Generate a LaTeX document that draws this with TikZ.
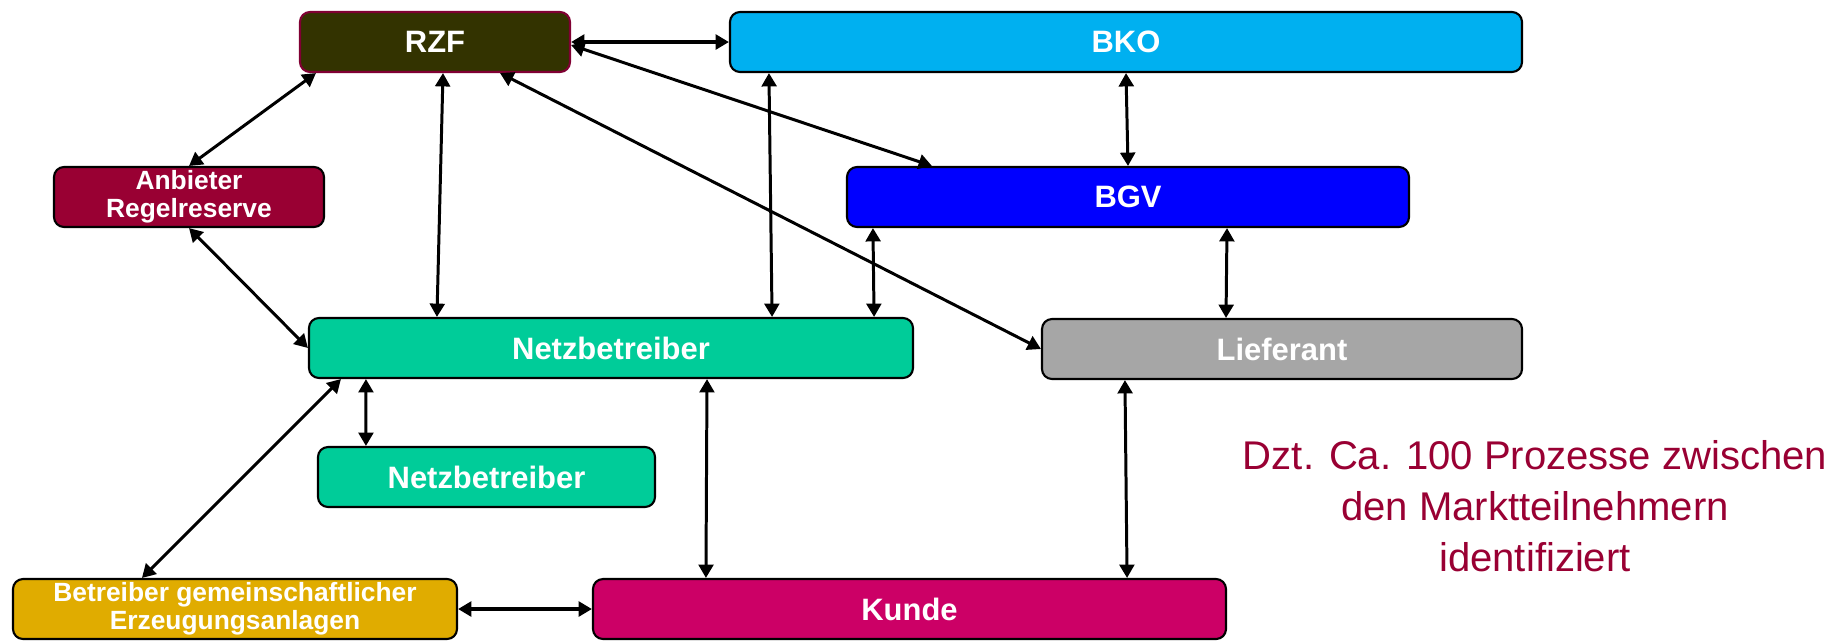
\documentclass[tikz,border=0pt]{standalone}
\usepackage{fontspec}
\setmainfont{Liberation Sans}
\usetikzlibrary{arrows.meta}

\definecolor{rzfolive}{HTML}{333300}
\definecolor{rzfborder}{HTML}{800033}
\definecolor{bkoblue}{HTML}{00B0F0}
\definecolor{anbieterred}{HTML}{990033}
\definecolor{bgvblue}{HTML}{0000FF}
\definecolor{netzgreen}{HTML}{00CC99}
\definecolor{liefgray}{HTML}{A6A6A6}
\definecolor{betrgold}{HTML}{E0AC00}
\definecolor{kundepink}{HTML}{CC0066}
\definecolor{notered}{HTML}{990033}

\begin{document}
\begin{tikzpicture}[
    box/.style={draw=black, line width=0.6pt, rounded corners=0.1cm, text=white, minimum height=0.6cm, inner sep=0pt, align=center, font=\fontsize{8.8}{10.5}\selectfont\bfseries},
    smallbox/.style={box, font=\fontsize{7.5}{8}\selectfont\bfseries},
    edge/.style={draw, line width=0.85pt, {Triangle[length=3.8pt,width=4.2pt]}-{Triangle[length=3.8pt,width=4.2pt]}},
    thickedge/.style={edge, line width=1.2pt},
    note/.style={text=notered, align=center, inner sep=0pt, font=\fontsize{11.4}{14.5}\selectfont}
]

\path[use as bounding box, fill=white] (0,0) rectangle (18.34,-6.40);

% Define node positions
\node[box, fill=rzfolive, draw=rzfborder, minimum width=2.70cm] (RZF) at (4.35,-0.42) {RZF};
\node[box, fill=bkoblue, minimum width=7.92cm] (BKO) at (11.26,-0.42) {BKO};
\node[smallbox, fill=anbieterred, minimum width=2.70cm] (AR) at (1.89,-1.97) {Anbieter\\Regelreserve};
\node[box, fill=bgvblue, minimum width=5.62cm] (BGV) at (11.28,-1.97) {BGV};
\node[box, fill=netzgreen, minimum width=6.04cm] (NB) at (6.11,-3.48) {Netzbetreiber};
\node[box, fill=liefgray, minimum width=4.80cm] (LF) at (12.82,-3.49) {Lieferant};
\node[box, fill=netzgreen, minimum width=3.37cm] (NB2) at (4.865,-4.77) {Netzbetreiber};
\node[smallbox, fill=betrgold, minimum width=4.44cm] (BGE) at (2.35,-6.09) {Betreiber gemeinschaftlicher\\Erzeugungsanlagen};
\node[box, fill=kundepink, minimum width=6.33cm] (KD) at (9.095,-6.09) {Kunde};

% Add note text
\node[note, anchor=north] (note) at (15.35,-4.40) {Dzt. Ca. 100 Prozesse zwischen\\den Marktteilnehmern\\identifiziert};

% Draw edges
\draw[thickedge] (RZF.east) -- (BKO.west);
\draw[edge] ([yshift=-0.03cm]RZF.east) -- ([xshift=0.86cm]BGV.north west);
\draw[edge] ([xshift=0.65cm]RZF.south) -- (LF.west);
\draw[edge] ([xshift=0.17cm]RZF.south west) -- (AR.north);
\draw[edge] ([xshift=0.08cm]RZF.south) -- ([xshift=1.29cm]NB.north west);
\draw[edge] ([xshift=0.40cm]BKO.south west) -- ([xshift=-1.42cm]NB.north east);
\draw[edge] (BKO.south) -- (BGV.north);
\draw[edge] ([xshift=0.27cm]BGV.south west) -- ([xshift=-0.40cm]NB.north east);
\draw[edge] ([xshift=0.99cm]BGV.south) -- ([xshift=-0.56cm]LF.north);
\draw[edge] (AR.south) -- (NB.west);
\draw[edge] ([xshift=0.58cm]NB.south west) -- ([xshift=0.49cm]NB2.north west);
\draw[edge] ([xshift=0.33cm]NB.south west) -- ([xshift=1.30cm]BGE.north west);
\draw[edge] ([xshift=0.96cm]NB.south) -- ([xshift=1.14cm]KD.north west);
\draw[edge] ([xshift=0.84cm]LF.south west) -- ([xshift=-1.00cm]KD.north east);
\draw[thickedge] (BGE.east) -- (KD.west);

\end{tikzpicture}
\end{document}
